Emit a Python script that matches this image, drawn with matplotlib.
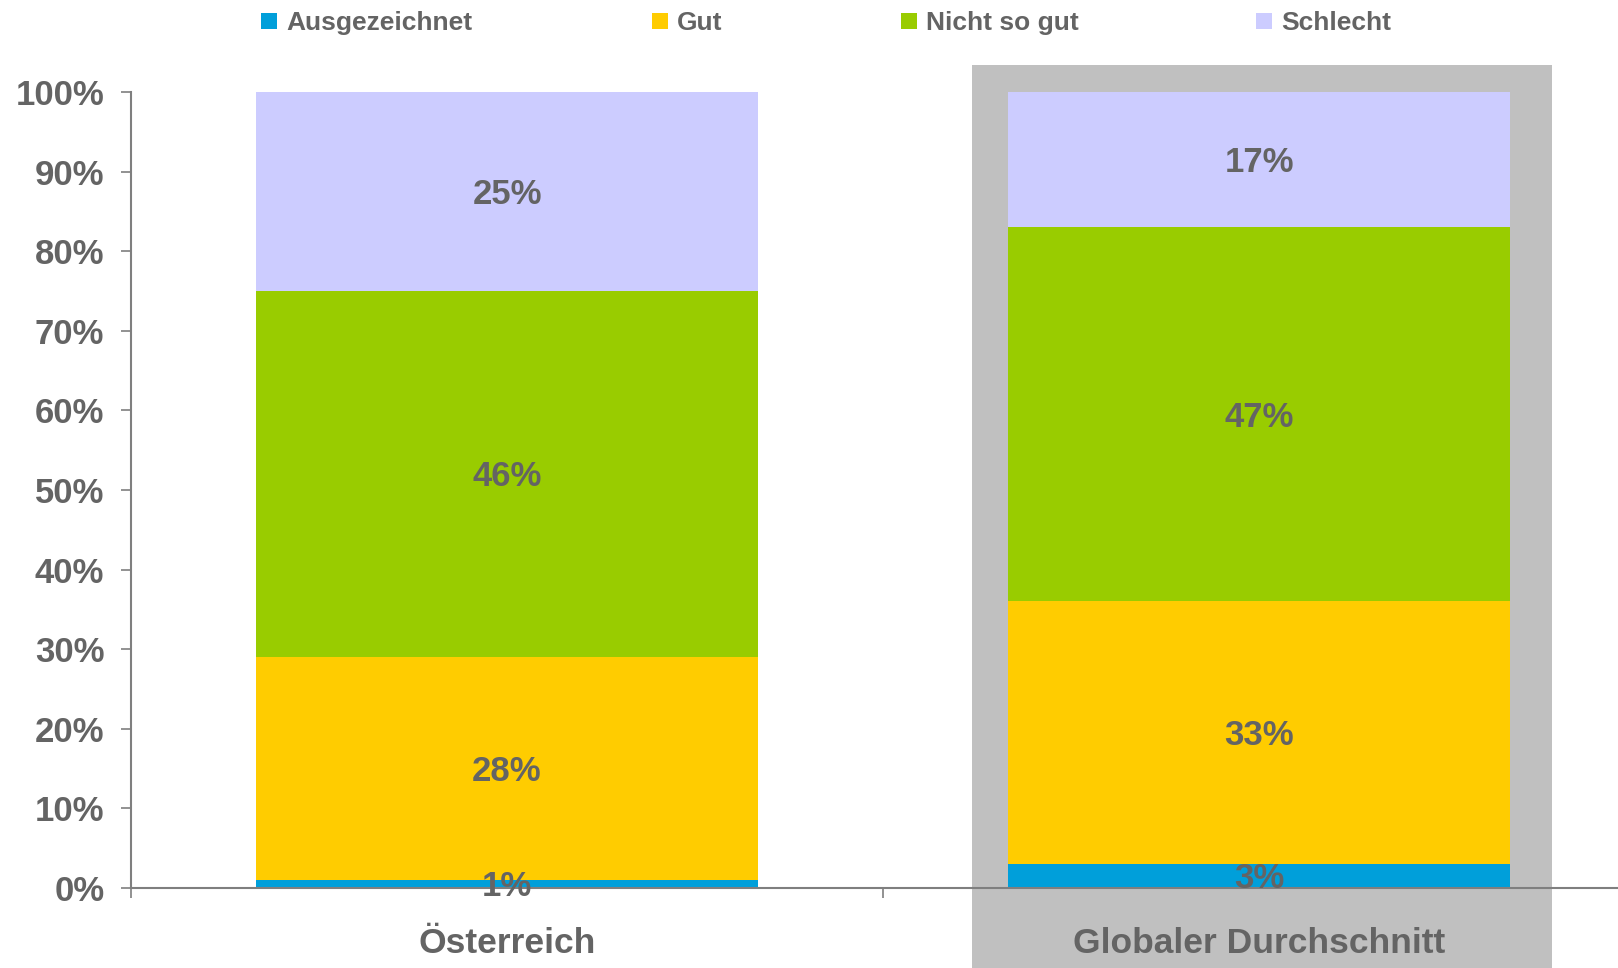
import matplotlib
matplotlib.use("Agg")
import matplotlib.pyplot as plt
from matplotlib.patches import Rectangle
import numpy as np

categories = ["Österreich", "Globaler Durchschnitt"]
series_names = ["Ausgezeichnet", "Gut", "Nicht so gut", "Schlecht"]
ausgezeichnet = [1, 3]
gut = [28, 33]
nicht_so_gut = [46, 47]
schlecht = [25, 17]
yticks = [0, 10, 20, 30, 40, 50, 60, 70, 80, 90, 100]

colors = ["#009FDA", "#FFCC00", "#99CC00", "#CCCCFF"]
text_color = "#646464"
spine_color = "#7F7F7F"
plt.rcParams["font.family"] = ["Liberation Sans", "DejaVu Sans"]
plt.rcParams["font.weight"] = "bold"

W, H = 1618, 968
fig = plt.figure(figsize=(W / 100, H / 100), dpi=100)
ax = fig.add_axes([131 / W, (H - 888) / H, (1635 - 131) / W, (888 - 92) / H])
ax.patch.set_alpha(0)

x = np.arange(len(categories))
series = [ausgezeichnet, gut, nicht_so_gut, schlecht]
bottom = np.zeros(len(categories))
barw = 0.667
for vals, c in zip(series, colors):
    v = np.array(vals, dtype=float) / 100
    ax.bar(x, v, width=barw, bottom=bottom, color=c, zorder=3, linewidth=0)
    for xi, vi, bi in zip(x, v, bottom):
        ax.annotate(f"{int(round(vi * 100))}%", (xi, bi + vi / 2), xytext=(0, -2),
                    textcoords="offset points", ha="center", va="center",
                    fontsize=25, color=text_color, fontweight="bold", zorder=5)
    bottom += v

# highlight box behind the global average
ax.add_patch(Rectangle((x[1] - 0.381, -0.2), 0.77, 1.034 + 0.2, facecolor="#C0C0C0",
                       edgecolor="none", zorder=0, clip_on=False))

ax.set_xlim(-0.5, 1.5)
ax.set_ylim(0, 1)
ax.set_yticks(np.array(yticks) / 100)
ax.set_yticklabels([f"{t}%" for t in yticks])
ax.set_xticks([-0.5, 0.5, 1.5])
ax.set_xticklabels([])
ax.set_xticks(x, minor=True)
ax.set_xticklabels(categories, minor=True)
ax.tick_params(axis="y", direction="out", length=7.2, width=1.2, color=spine_color,
               labelsize=25, labelcolor=text_color, pad=12)
ax.tick_params(axis="x", which="major", direction="out", length=7.2, width=1.2, color=spine_color)
ax.tick_params(axis="x", which="minor", length=0, labelsize=25.5, labelcolor=text_color, pad=28)
for lab in ax.get_yticklabels() + ax.get_xticklabels(minor=True):
    lab.set_fontweight("bold")

for s in ["top", "right"]:
    ax.spines[s].set_visible(False)
for s in ["left", "bottom"]:
    ax.spines[s].set_color(spine_color)
    ax.spines[s].set_linewidth(1.5)
    ax.spines[s].set_zorder(4)

# legend
leg_x = [261, 652, 901, 1256]
yc = H - 21
for name, c, lx in zip(series_names, colors, leg_x):
    fig.patches.append(Rectangle((lx / W, (yc - 8) / H), 16 / W, 16 / H, facecolor=c,
                                 edgecolor="none", transform=fig.transFigure))
    fig.text((lx + 25) / W, (yc - 2) / H, name, ha="left", va="center", fontsize=19,
             color=text_color, fontweight="bold")

fig.savefig("out.png", dpi=100)
